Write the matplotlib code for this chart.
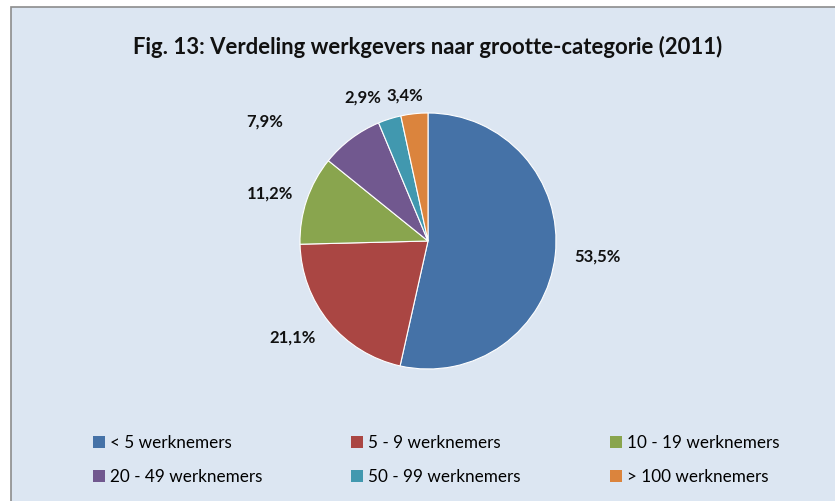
import numpy as np
import matplotlib.pyplot as plt
from matplotlib.patches import Rectangle

plt.rcParams['font.family'] = ['Lato', 'DejaVu Sans']

# Data
categories = ["< 5 werknemers", "5 - 9 werknemers", "10 - 19 werknemers",
              "20 - 49 werknemers", "50 - 99 werknemers", "> 100 werknemers"]
shares = [53.5, 21.1, 11.2, 7.9, 2.9, 3.4]
share_labels = ["53,5%", "21,1%", "11,2%", "7,9%", "2,9%", "3,4%"]
colors = ["#4572a7", "#aa4643", "#89a54e", "#71588f", "#4198af", "#db843d"]

# label placement relative to wedge mid-angle (deg offset, radius factor)
label_shift = [1, -4, 2, 17, 7, 3]
label_dist = [1.33, 1.30, 1.29, 1.58, 1.23, 1.15]

W, H = 835, 501
fig = plt.figure(figsize=(W / 100, H / 100), dpi=100)
fig.patch.set_facecolor("white")

# chart area frame
fig.patches.append(Rectangle((11 / W, -0.05), 1.1, (H - 7) / H + 0.05,
                             transform=fig.transFigure, facecolor="#dce6f2",
                             edgecolor="#8c8c8c", linewidth=1.2, zorder=-10))

fig.text(428 / W, 1 - 47 / H, "Fig. 13: Verdeling werkgevers naar grootte-categorie (2011)",
         ha="center", va="center", fontsize=15.9, fontweight="bold", color="#111111")

r = 128
ax = fig.add_axes([(428 - r) / W, (H - 241 - r) / H, 2 * r / W, 2 * r / H])
ax.set_facecolor("none")
wedges, _ = ax.pie(shares, colors=colors, startangle=90, counterclock=False,
                   radius=1.0, wedgeprops=dict(edgecolor="white", linewidth=0.8))
ax.set_xlim(-1, 1)
ax.set_ylim(-1, 1)
ax.set_aspect("equal")
ax.axis("off")

for w, txt, sh, d in zip(wedges, share_labels, label_shift, label_dist):
    mid = np.deg2rad((w.theta1 + w.theta2) / 2 + sh)
    ax.text(d * np.cos(mid), d * np.sin(mid), txt, ha="center", va="center",
            fontsize=12, fontweight="bold", color="#111111", clip_on=False)

# legend is filled row by row in the reference
order = [0, 3, 1, 4, 2, 5]
leg = fig.legend([wedges[i] for i in order], [categories[i] for i in order],
                 ncol=3, loc="lower left",
                 bbox_to_anchor=(86 / W, 1 - 492 / H, 700 / W, 70 / H),
                 mode="expand", frameon=False, fontsize=12.3,
                 handlelength=0.7, handleheight=0.7, handletextpad=0.3,
                 labelspacing=1.05, borderaxespad=0)
for h in leg.legend_handles:
    h.set_edgecolor("none")

fig.savefig("out.png", dpi=100)
